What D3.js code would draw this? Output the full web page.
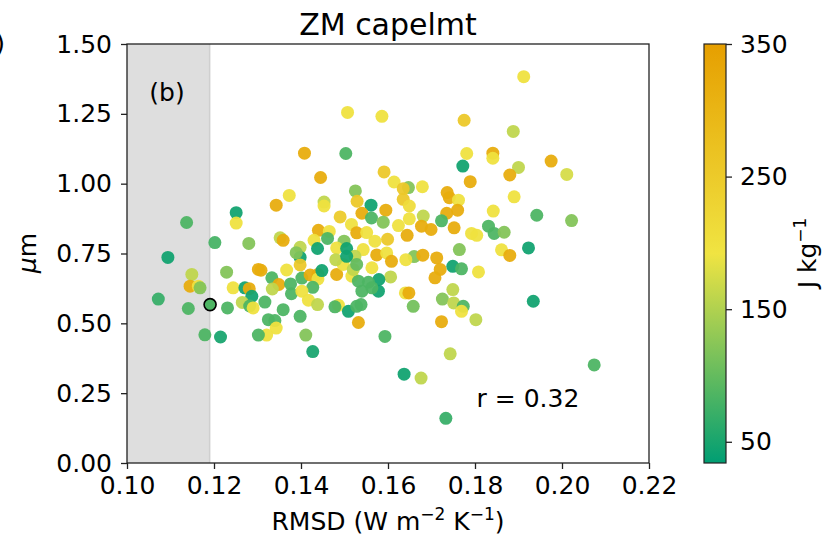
<!DOCTYPE html>
<html><head><meta charset="utf-8">
<script src="https://cdn.jsdelivr.net/npm/d3@7/dist/d3.min.js"></script>
<style>
body{margin:0;background:#fff}
svg{display:block}
text{font-family:"DejaVu Sans",sans-serif;fill:#000}
</style></head>
<body><svg id="c" width="824" height="538"></svg>
<script>
// ---- data ----
const rmsd = [0.1912,0.1507,0.1586,0.1775,0.1888,0.1408,0.1503,0.1781,0.1841,0.1841,
0.1772,0.1975,0.1900,0.2011,0.1445,0.1591,0.1880,0.1789,0.1614,0.1647,
0.1635,0.1679,0.1525,0.1373,0.1736,0.1741,0.1762,0.1890,0.1635,0.1649,
0.1529,0.1453,0.1453,0.1343,0.1561,0.1595,0.1251,0.1251,0.1137,0.1490,
0.1540,0.1562,0.1735,0.1760,0.1842,0.1942,0.2022,0.1589,0.1649,0.1681,
0.1723,0.1516,0.1624,0.1677,0.1699,0.1752,0.1831,0.1844,0.1867,0.1792,
0.1804,0.1440,0.1465,0.1461,0.1430,0.1528,0.1551,0.1499,0.1570,0.1599,
0.1644,0.1202,0.1280,0.1352,0.1359,0.1398,0.1438,0.1482,0.1505,0.1543,
0.1574,0.1524,0.1398,0.1398,0.1597,0.1660,0.1680,0.1712,0.1641,0.1608,
0.1764,0.1861,0.1880,0.1923,0.1720,0.1708,0.1749,0.1769,0.1808,0.1563,
0.1606,0.1579,0.1578,0.1640,0.1648,0.1658,0.1749,0.1725,0.1751,0.1773,
0.1769,0.1802,0.1723,0.1934,0.1593,0.1743,0.1637,0.1676,0.1733,0.2074,
0.1094,0.1072,0.1149,0.1145,0.1164,0.1168,0.1141,0.1179,0.1215,0.1229,
0.1231,0.1244,0.1271,0.1281,0.1287,0.1265,0.1282,0.1290,0.1302,0.1308,
0.1367,0.1333,0.1349,0.1334,0.1376,0.1378,0.1317,0.1359,0.1398,0.1325,
0.1340,0.1343,0.1321,0.1302,0.1411,0.1427,0.1402,0.1421,0.1439,0.1439,
0.1448,0.1427,0.1402,0.1417,0.1438,0.1482,0.1497,0.1480,0.1505,0.1517,
0.1532,0.1555,0.1520,0.1528,0.1540,0.1486,0.1478,0.1509,0.1528,0.1538,
0.1532,0.1563,0.1389];
const sizeUm = [1.383,1.255,1.241,1.227,1.187,1.109,1.108,1.108,1.109,1.091,
1.063,1.081,1.058,1.033,1.022,1.042,1.031,1.007,1.006,0.986,
0.982,0.989,0.974,0.958,0.968,0.950,0.941,0.953,0.944,0.920,
0.937,0.934,0.920,0.923,0.923,0.905,0.896,0.859,0.861,0.881,
0.894,0.877,0.894,0.905,0.902,0.887,0.868,0.862,0.874,0.884,
0.867,0.854,0.850,0.848,0.836,0.842,0.848,0.822,0.826,0.822,
0.815,0.833,0.829,0.804,0.797,0.824,0.825,0.794,0.794,0.801,
0.815,0.789,0.786,0.806,0.797,0.772,0.768,0.770,0.768,0.764,
0.745,0.740,0.736,0.709,0.752,0.739,0.744,0.734,0.728,0.722,
0.764,0.763,0.743,0.770,0.693,0.663,0.704,0.695,0.684,0.699,
0.666,0.657,0.615,0.609,0.609,0.561,0.621,0.587,0.573,0.561,
0.543,0.513,0.506,0.579,0.453,0.391,0.318,0.304,0.160,0.351,
0.736,0.587,0.675,0.633,0.633,0.627,0.553,0.459,0.451,0.683,
0.555,0.627,0.627,0.624,0.597,0.575,0.562,0.555,0.693,0.690,
0.691,0.663,0.639,0.623,0.641,0.606,0.576,0.549,0.525,0.513,
0.510,0.483,0.458,0.458,0.458,0.399,0.662,0.673,0.675,0.659,
0.689,0.629,0.615,0.583,0.567,0.675,0.711,0.728,0.740,0.669,
0.651,0.647,0.693,0.711,0.615,0.565,0.559,0.543,0.561,0.567,
0.503,0.627,0.753];
const capeJkg = [200,200,200,255,160,320,85,200,320,200,
45,320,160,175,320,255,320,320,200,120,
255,200,120,200,320,320,200,200,255,210,
255,160,200,320,45,320,45,200,85,250,
320,85,320,320,200,85,120,120,200,160,
85,200,200,320,320,320,85,85,120,200,
200,320,200,85,200,320,200,120,200,255,
320,80,120,160,320,160,45,200,45,200,
320,160,45,255,200,120,320,320,200,320,
120,200,320,45,320,320,45,85,200,200,
160,45,45,200,320,110,160,120,160,85,
200,160,320,45,85,160,45,160,70,85,
45,70,160,320,200,120,85,85,50,120,
85,200,45,320,45,160,85,200,320,320,
200,85,320,160,85,85,85,85,85,85,
85,200,200,85,120,50,85,320,320,200,
45,85,200,200,160,320,200,160,45,200,
85,85,160,100,85,200,85,45,85,85,
320,85,120];
// highlighted (outlined) point
const hiRmsd = [0.1191], hiSize = [0.567], hiCape = [85];
const xTicks = [0.10,0.12,0.14,0.16,0.18,0.20,0.22];
const yTicks = [0.00,0.25,0.50,0.75,1.00,1.25,1.50];
const cbTicks = [50,150,250,350];
const shadeRange = [0.10,0.119];
const capeRange = [34,350];
const cmapColors = ["#009E73","#F0E442","#E69F00"];

// ---- layout ----
const svg = d3.select("#c");
const L=127,R=649,T=44,B=463;
const x = d3.scaleLinear().domain([0.10,0.22]).range([L,R]);
const y = d3.scaleLinear().domain([0,1.5]).range([B,T]);
const cmid = (capeRange[0]+capeRange[1])/2;
const color = d3.scaleLinear().domain([capeRange[0],cmid,capeRange[1]]).range(cmapColors).interpolate(d3.interpolateRgb).clamp(true);

// shaded span
svg.append("rect").attr("x",x(shadeRange[0])).attr("y",T)
  .attr("width",x(shadeRange[1])-x(shadeRange[0])).attr("height",B-T)
  .attr("fill","#dedede");
svg.append("line").attr("x1",x(shadeRange[1])).attr("x2",x(shadeRange[1]))
  .attr("y1",T).attr("y2",B).attr("stroke","#cfcfcf").attr("stroke-width",1.5);

// points
const pts = rmsd.map((d,i)=>({x:d,y:sizeUm[i],c:capeJkg[i]}));
svg.append("g").selectAll("circle").data(pts).join("circle")
  .attr("cx",d=>x(d.x)).attr("cy",d=>y(d.y)).attr("r",6.5)
  .attr("fill",d=>color(d.c)).attr("fill-opacity",0.94);
svg.append("g").selectAll("circle").data(hiRmsd.map((d,i)=>({x:d,y:hiSize[i],c:hiCape[i]}))).join("circle")
  .attr("cx",d=>x(d.x)).attr("cy",d=>y(d.y)).attr("r",6)
  .attr("fill",d=>color(d.c)).attr("stroke","#000").attr("stroke-width",1.6);

// frame
svg.append("rect").attr("x",L).attr("y",T).attr("width",R-L).attr("height",B-T)
  .attr("fill","none").attr("stroke","#222").attr("stroke-width",1.3);

// axes
const fs = "25px";
const gx = svg.append("g").attr("transform",`translate(0,${B})`)
  .call(d3.axisBottom(x).tickValues(xTicks).tickFormat(d3.format(".2f")).tickSize(6).tickPadding(7));
const gy = svg.append("g").attr("transform",`translate(${L},0)`)
  .call(d3.axisLeft(y).tickValues(yTicks).tickFormat(d3.format(".2f")).tickSize(6).tickPadding(9));
[gx,gy].forEach(g=>{
  g.select(".domain").remove();
  g.selectAll(".tick line").attr("stroke","#222").attr("stroke-width",1.3);
  g.selectAll(".tick text").attr("font-size",fs).attr("font-family","DejaVu Sans").attr("fill","#000");
});

// colorbar
const cbL=704,cbW=22;
const cy = d3.scaleLinear().domain(capeRange).range([B,T]);
const defs = svg.append("defs");
const grad = defs.append("linearGradient").attr("id","cg").attr("x1",0).attr("x2",0).attr("y1",1).attr("y2",0);
d3.range(0,1.0001,0.05).forEach(t=>{
  const v = capeRange[0]+t*(capeRange[1]-capeRange[0]);
  grad.append("stop").attr("offset",t).attr("stop-color",color(v));
});
svg.append("rect").attr("x",cbL).attr("y",T).attr("width",cbW).attr("height",B-T)
  .attr("fill","url(#cg)").attr("stroke","#222").attr("stroke-width",1.2);
const gc = svg.append("g").attr("transform",`translate(${cbL+cbW},0)`)
  .call(d3.axisRight(cy).tickValues(cbTicks).tickFormat(d3.format("d")).tickSize(6).tickPadding(8));
gc.select(".domain").remove();
gc.selectAll(".tick line").attr("stroke","#222").attr("stroke-width",1.3);
gc.selectAll(".tick text").attr("font-size",fs).attr("font-family","DejaVu Sans").attr("fill","#000");

// texts
svg.append("text").attr("x",(L+R)/2).attr("y",35).attr("text-anchor","middle")
  .attr("font-size","30px").text("ZM capelmt");
const xl = svg.append("text").attr("x",(L+R)/2).attr("y",530).attr("text-anchor","middle").attr("font-size",fs);
xl.append("tspan").text("RMSD (W m");
xl.append("tspan").attr("dy",-10).attr("font-size","17px").text("\u22122");
xl.append("tspan").attr("dy",10).text(" K");
xl.append("tspan").attr("dy",-10).attr("font-size","17px").text("\u22121");
xl.append("tspan").attr("dy",10).text(")");
const yl = svg.append("text").attr("transform","translate(36,253) rotate(-90)").attr("text-anchor","middle")
  .attr("font-size",fs);
yl.append("tspan").attr("font-style","italic").text("\u03bc");
yl.append("tspan").text("m");
const cl = svg.append("text").attr("transform","translate(816,253) rotate(-90)").attr("text-anchor","middle").attr("font-size",fs);
cl.append("tspan").text("J kg");
cl.append("tspan").attr("dy",-10).attr("font-size","17px").text("\u22121");
svg.append("text").attr("x",167).attr("y",101).attr("text-anchor","middle").attr("font-size",fs).text("(b)");
svg.append("text").attr("x",528).attr("y",407).attr("text-anchor","middle").attr("font-size",fs).text("r = 0.32");
svg.append("text").attr("x",5).attr("y",52).attr("text-anchor","end").attr("font-size",fs).text(")");
</script></body></html>
